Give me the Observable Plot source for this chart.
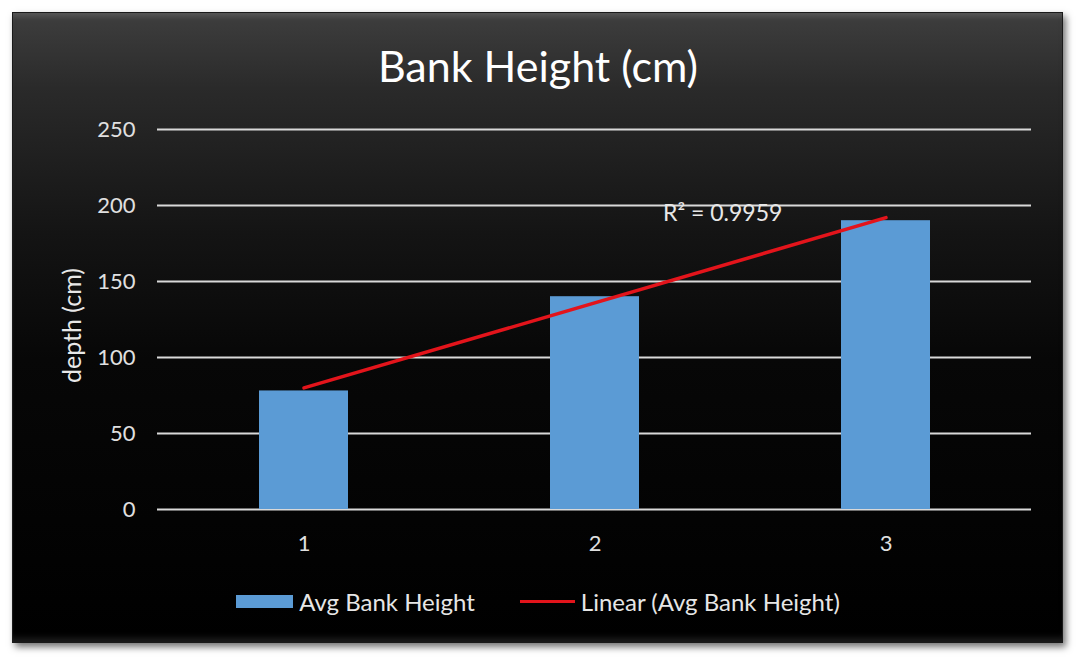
<!DOCTYPE html>
<html>
<head>
<meta charset="utf-8">
<script src="https://cdn.jsdelivr.net/npm/d3@7"></script>
<script src="https://cdn.jsdelivr.net/npm/@observablehq/plot@0.6"></script>
<style>
  html, body { margin: 0; padding: 0; background: #ffffff; width: 1076px; height: 663px; overflow: hidden; }
  #panel {
    position: absolute; left: 12px; top: 12px; width: 1051px; height: 631px;
    background: linear-gradient(to bottom, #3e3e3e 0%, #2a2a2a 12%, #141414 35%, #070707 55%, #000000 100%);
    box-shadow: 3px 4px 7px rgba(0,0,0,0.55), inset 0 7px 5px -3px rgba(255,255,255,0.12), inset 0 -8px 6px -4px rgba(60,60,60,0.5);
    border: 1px solid #1a1a1a;
    box-sizing: border-box;
  }
  #title {
    position: absolute; left: 0; width: 1076px; top: 40px; text-align: center;
    font-family: Lato, sans-serif; font-size: 43px; color: #ffffff;
  }
  #chart { position: absolute; left: 0; top: 110px; }
  #legend {
    position: absolute; top: 587px; left: 0; width: 1076px; display: flex; justify-content: center; align-items: center;
    font-family: Lato, sans-serif; font-size: 24px; color: #e6e6e6;
  }
  .item { display: flex; align-items: center; }
  .swatch { width: 57px; height: 13px; background: #5B9BD5; margin-right: 6px; }
  .lineSw { width: 55px; height: 3px; background: #e3141b; margin-right: 6px; }
</style>
</head>
<body>
<div id="panel"></div>
<div id="title">Bank Height (cm)</div>
<div id="chart"></div>
<div id="legend">
  <div class="item"><div class="swatch"></div><span id="leg1"></span></div>
  <div class="item" style="margin-left:45px"><div class="lineSw"></div><span id="leg2"></span></div>
</div>
<script>
const categories = ["1", "2", "3"];
const values = [78, 140, 190];
const yTicks = [0, 50, 100, 150, 200, 250];
const seriesName = "Avg Bank Height";
const trendName = "Linear (Avg Bank Height)";
const r2Label = "R² = 0.9959";
const yLabel = "depth (cm)";

document.getElementById("leg1").textContent = seriesName;
document.getElementById("leg2").textContent = trendName;

const data = categories.map((c, i) => ({cat: c, value: values[i]}));

// least-squares linear trend over category index (1..n), as in the spreadsheet trendline
const xs = categories.map((c, i) => i + 1);
const n = xs.length;
const mx = d3.mean(xs), my = d3.mean(values);
const slope = d3.sum(xs, (x, i) => (x - mx) * (values[i] - my)) / d3.sum(xs, x => (x - mx) ** 2);
const intercept = my - slope * mx;
const trend = [
  {cat: categories[0], y: intercept + slope * xs[0]},
  {cat: categories[n - 1], y: intercept + slope * xs[n - 1]}
];

const chart = Plot.plot({
  width: 1076,
  height: 460,
  marginLeft: 157,
  marginRight: 45,
  marginTop: 19,
  marginBottom: 61,
  style: {background: "transparent", color: "#e0e0e0", fontFamily: "Lato, sans-serif", fontSize: "22px", overflow: "visible"},
  x: {type: "band", domain: categories, padding: 0, label: null, tickSize: 0, tickPadding: 26},
  y: {domain: [0, 250], ticks: yTicks, label: null, tickSize: 0, tickPadding: 22},
  marks: [
    Plot.ruleY(yTicks, {stroke: "#d9d9d9", strokeWidth: 2}),
    Plot.barY(data, {x: "cat", y: "value", fill: "#5B9BD5", insetLeft: 101, insetRight: 101}),
    Plot.line(trend, {x: "cat", y: "y", stroke: "#e3141b", strokeWidth: 3.5}),
    Plot.text([trend[1]], {x: "cat", y: "y", text: () => r2Label, textAnchor: "start", dx: -223, dy: -4, fill: "#e8e8e8", fontSize: 23}),
    Plot.text([yLabel], {frameAnchor: "left", textAnchor: "middle", rotate: -90, dx: -85, dy: 6, fill: "#e8e8e8", fontSize: 25})
  ]
});
document.getElementById("chart").appendChild(chart);
</script>
</body>
</html>
